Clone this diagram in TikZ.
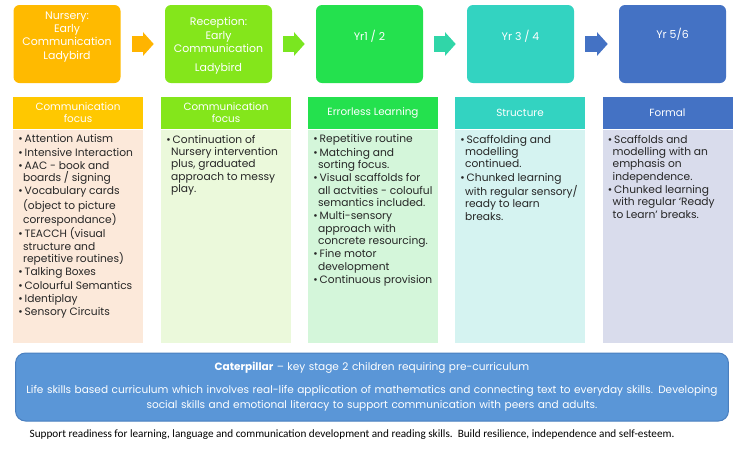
\documentclass[tikz,border=0pt]{standalone}
\usepackage{fontspec}
\setmainfont{Poppins}
\newfontfamily\notefont{Carlito}
\usepackage{xcolor}
\usepackage{tikz}
\usetikzlibrary{arrows.meta,positioning}
\definecolor{nurs}{HTML}{FFBA00}
\definecolor{recep}{HTML}{84E61B}
\definecolor{yrone}{HTML}{24E14E}
\definecolor{yrthree}{HTML}{33D3C1}
\definecolor{yrfive}{HTML}{4472C4}
\definecolor{arrteal}{HTML}{30D6A8}
\definecolor{bodyone}{HTML}{FCE9DA}
\definecolor{bodytwo}{HTML}{EBF9DB}
\definecolor{bodythree}{HTML}{D4F6DA}
\definecolor{bodyfour}{HTML}{D5F3F1}
\definecolor{bodyfive}{HTML}{D9DCEC}
\definecolor{cater}{HTML}{5A96D7}
\definecolor{caterline}{HTML}{4A7FBF}
\newcommand{\stagetext}[2]{\parbox[c][58.5pt][t]{80.25pt}{\centering\vspace*{#1}#2}}
\newcommand{\bodytext}[1]{\parbox[c][151.75pt][t]{89.5pt}{\setlength{\parskip}{0.6pt}\raggedright #1}}
\newcommand{\bul}{\par\hangindent=0.45em\hangafter=1\noindent\makebox[0.6em][l]{\textbullet}}

\begin{document}
\begin{tikzpicture}[
  x=0.75pt, y=-0.75pt,
  stage/.style={rounded corners=4.5pt, inner sep=0pt, text=white, font=\fontsize{8.2}{10}\selectfont},
  colhead/.style={minimum width=97.5pt, minimum height=24pt, inner sep=0pt, align=center, text=white, font=\fontsize{7.8}{9}\selectfont},
  colbody/.style={below=0pt of #1, inner xsep=4pt, inner ysep=4pt, text=black!85, font=\fontsize{8}{9.3}\selectfont},
  fat/.style={line width=12pt, -{Triangle[length=8pt,width=17.25pt]}, shorten <=8.25pt, shorten >=8.25pt}
]
\useasboundingbox (0,0) rectangle (743,451);
\node[stage, fill=nurs] (nursery) at (67,44) {\stagetext{5pt}{Nursery:\\Early\\Communication\\Ladybird}};
\node[stage, fill=recep] (reception) at (218.5,44) {\stagetext{9.5pt}{Reception:\\Early\\Communication\\[4pt]Ladybird}};
\node[stage, fill=yrone] (yrone) at (369.5,44) {\stagetext{18.8pt}{Yr1 / 2}};
\node[stage, fill=yrthree] (yrthree) at (520.5,44) {\stagetext{18.8pt}{Yr 3 / 4}};
\node[stage, fill=yrfive] (yrfive) at (672.5,44) {\stagetext{17.3pt}{Yr 5/6}};
\draw[fat, draw=nurs!97!red] (nursery) -- (reception);
\draw[fat, draw=recep!90!yrone] (reception) -- (yrone);
\draw[fat, draw=arrteal] (yrone) -- (yrthree);
\draw[fat, draw=yrfive] (yrthree) -- (yrfive);
\node[colhead, fill=nurs!80!yellow] (hone) at (78,113) {Communication\\focus};
\node[colhead, fill=recep] (htwo) at (226,113) {Communication\\focus};
\node[colhead, fill=yrone] (hthree) at (373,113) {Errorless Learning};
\node[colhead, fill=yrthree] (hfour) at (520,113) {Structure};
\node[colhead, fill=yrfive] (hfive) at (667.5,113) {Formal};
\node[colbody=hone, fill=bodyone] (bone) {\bodytext{\bul Attention Autism\bul Intensive Interaction\bul AAC - book and\newline boards / signing\bul Vocabulary cards\newline (object to picture\newline correspondance)\bul TEACCH (visual\newline structure and\newline repetitive routines)\bul Talking Boxes\bul Colourful Semantics\bul Identiplay\bul Sensory Circuits}};
\node[colbody=htwo, fill=bodytwo] (btwo) {\bodytext{\bul Continuation of\newline Nursery intervention\newline plus, graduated\newline approach to messy\newline play.}};
\node[colbody=hthree, fill=bodythree] (bthree) {\bodytext{\bul Repetitive routine\bul Matching and\newline sorting focus.\bul Visual scaffolds for\newline all actvities - colouful\newline semantics included.\bul Multi-sensory\newline approach with\newline concrete resourcing.\bul Fine motor\newline development\bul Continuous provision}};
\node[colbody=hfour, fill=bodyfour] (bfour) {\bodytext{\bul Scaffolding and\newline modelling\newline continued.\bul Chunked learning\newline with regular sensory/\newline ready to learn\newline breaks.}};
\node[colbody=hfive, fill=bodyfive] (bfive) {\bodytext{\bul Scaffolds and\newline modelling with an\newline emphasis on\newline independence.\bul Chunked learning\newline with regular `Ready\newline to Learn' breaks.}};
\node[draw=caterline, fill=cater, line width=0.75pt, rounded corners=7.5pt, minimum width=534pt, minimum height=51pt, text width=528pt, align=center, text=white, font=\fontsize{7.9}{11.25}\selectfont] (caterpillar) at (372,387) {\textbf{Caterpillar} -- key stage 2 children requiring pre-curriculum\\[6pt]Life skills based curriculum which involves real-life application of mathematics and connecting text to everyday skills. Developing\\social skills and emotional literacy to support communication with peers and adults.};
\node[anchor=west, font=\notefont\fontsize{8.4}{10}\selectfont, text=black] (note) at (25,435) {Support readiness for learning, language and communication development and reading skills.\ \ Build resilience, independence and self-esteem.};
\end{tikzpicture}
\end{document}
